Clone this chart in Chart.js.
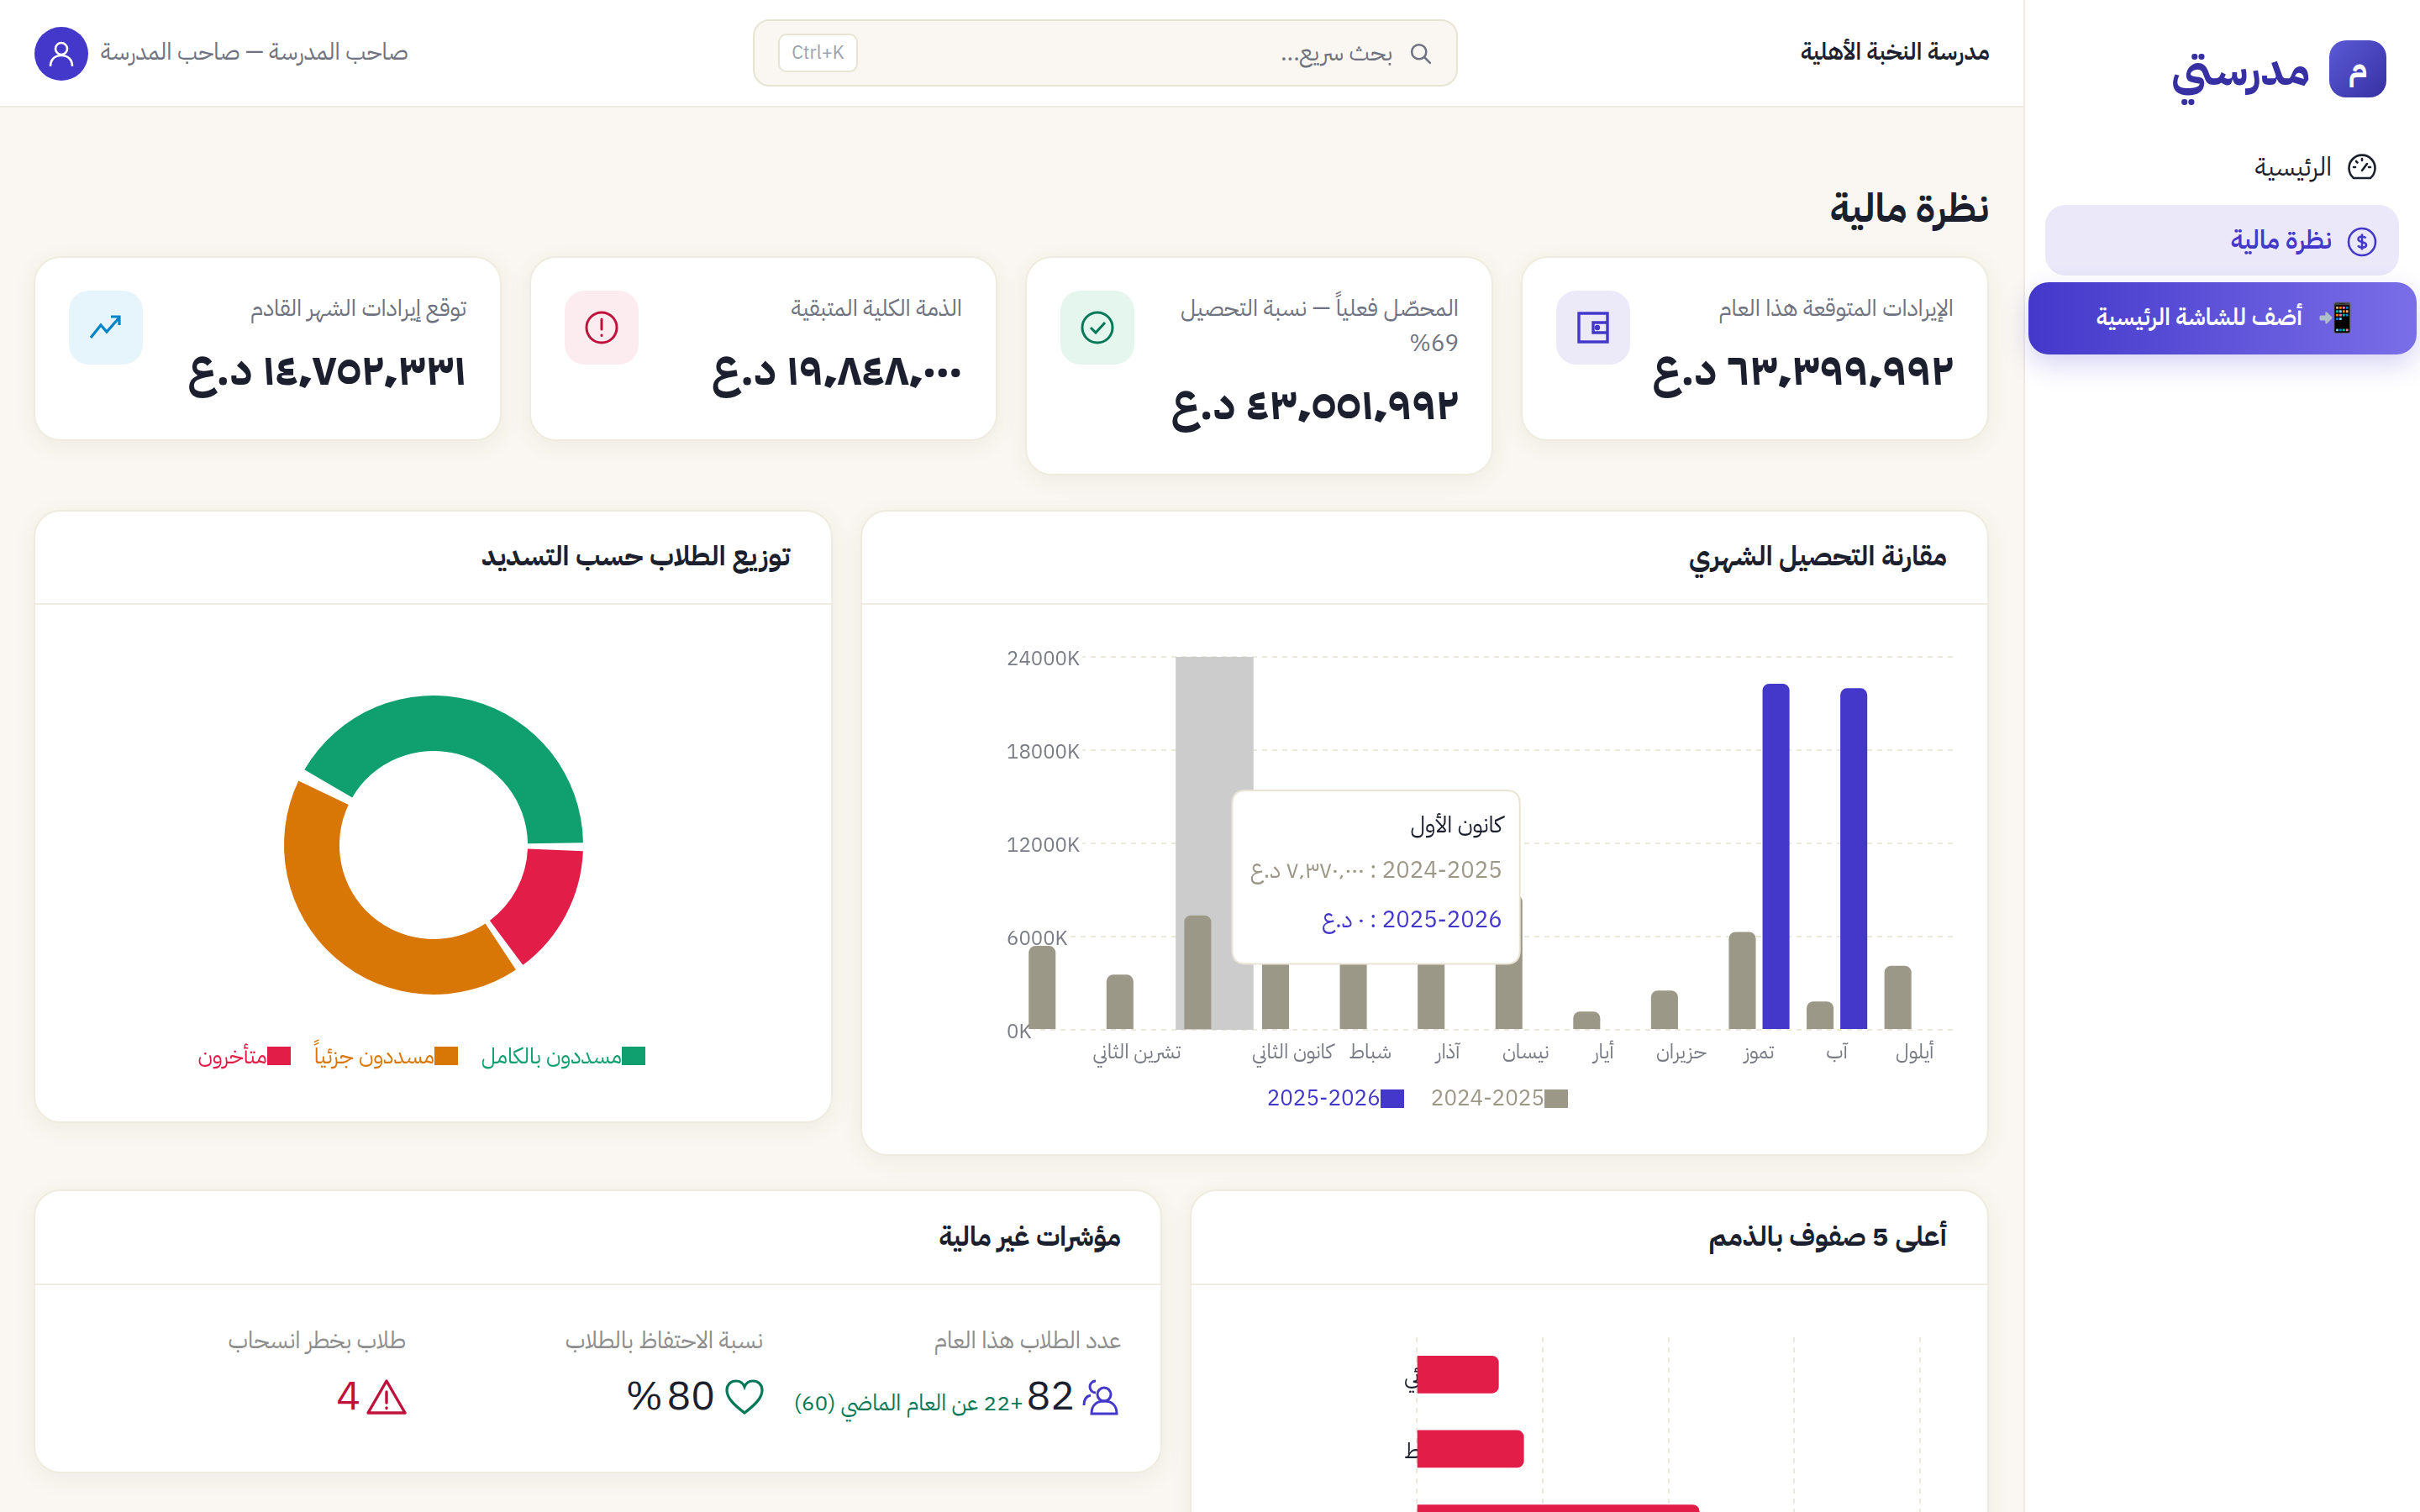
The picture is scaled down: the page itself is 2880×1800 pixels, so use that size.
<!DOCTYPE html>
<html lang="ar" dir="rtl">
<head>
<meta charset="utf-8">
<title>نظرة مالية</title>
<script src="https://cdn.jsdelivr.net/npm/chart.js@4"></script>
<style>
*{box-sizing:border-box;margin:0;padding:0}
html,body{width:2880px;height:1800px;overflow:hidden;background:#faf7f2;font-family:'IBM Plex Sans Arabic','Noto Sans Arabic','Noto Sans',sans-serif;color:#1c1f2e}
.abs{position:absolute}
.t{position:absolute;white-space:nowrap;transform:translateY(-50%);line-height:1.2}
.card{position:absolute;background:#fff;border:2px solid #efecdf;border-radius:32px;box-shadow:0 6px 28px rgba(90,80,40,.07)}
.hr{position:absolute;height:2px;background:#eeece2}
.ic{position:absolute;border-radius:24px;width:88px;height:88px;top:346px;display:flex;align-items:center;justify-content:center}
.lbl{font-size:27.600px;color:#6f7280}
.val{font-size:52.500px;font-weight:700;color:#1c1f2e}
.title{font-size:32.500px;font-weight:700;color:#1c1f2e}
.legend{position:absolute;display:flex;gap:28px;align-items:center;white-space:nowrap;font-size:26.300px}
.legend span.i{display:flex;align-items:center}
.legend b{display:block;width:28px;height:22px}
.legend em{font-style:normal}
svg{display:block}
canvas{position:absolute}
</style>
</head>
<body>
<!-- sidebar -->
<div class="abs" style="left:2408px;top:0;width:472px;height:1800px;background:#fff;border-left:2px solid #eeece2"></div>
<div class="abs" style="left:2772px;top:48px;width:68px;height:68px;border-radius:20px;background:linear-gradient(135deg,#5b5bd6,#3730a3)"></div>
<div class="t" style="left:2772px;width:68px;text-align:center;top:82px;font-size:36px;font-weight:700;color:#fff">م</div>
<div class="t" style="right:131px;top:84px;font-size:52px;font-weight:700;color:#3730a3">مدرستي</div>
<div class="t" style="right:105px;top:199px;font-size:30.500px;color:#1c1f2e">الرئيسية</div>
<svg class="abs" style="left:2793px;top:182px" width="36" height="36" viewBox="0 0 36 36" fill="none" stroke="#1c1f2e" stroke-width="2.6" stroke-linecap="round"><path d="M8 30a15.500 15.500 0 1 1 20 0z"/><path d="M18 21l6-8M18 7v2M8 17h2M28 17h-2M11 10l1.500 1.500"/></svg>
<div class="abs" style="left:2434px;top:244px;width:421px;height:84px;border-radius:24px;background:#eae8f9"></div>
<div class="t" style="right:105px;top:286px;font-size:30.500px;font-weight:600;color:#4338ca">نظرة مالية</div>
<svg class="abs" style="left:2793px;top:270px" width="36" height="36" viewBox="0 0 36 36" fill="none" stroke="#4338ca" stroke-width="2.6"><circle cx="18" cy="18" r="16"/><path d="M22.500 13.500c-1-1.500-2.500-2-4.500-2-2.500 0-4.500 1.300-4.500 3.300 0 4.500 9.500 2.200 9.500 6.700 0 2-2 3.200-5 3.200-2.300 0-3.800-.8-4.800-2.300M18 8.500v19"/></svg>
<div class="abs" style="left:2414px;top:336px;width:462px;height:86px;border-radius:24px;background:linear-gradient(90deg,#4338ca,#7a6ee8);box-shadow:0 12px 32px rgba(67,56,202,.22)"></div>
<div class="t" style="right:140px;top:379px;font-size:28px;font-weight:600;color:#fff">أضف للشاشة الرئيسية</div>
<div class="t" style="left:2758px;top:379px;font-size:34px;direction:ltr">📲</div>

<!-- header -->
<div class="abs" style="left:0;top:0;width:2408px;height:128px;background:#fff;border-bottom:2px solid #eeece2"></div>
<div class="t" style="right:512px;top:63px;font-size:28px;font-weight:600">مدرسة النخبة الأهلية</div>
<div class="abs" style="left:896px;top:23px;width:839px;height:80px;border-radius:20px;background:#faf7f2;border:2px solid #e8e4d4"></div>
<svg class="abs" style="left:1675px;top:48px" width="32" height="32" viewBox="0 0 28 28" fill="none" stroke="#6f7280" stroke-width="2.200" stroke-linecap="round"><circle cx="12" cy="12" r="7.500"/><path d="M17.500 17.500l6 6"/></svg>
<div class="t" style="right:1223px;top:64px;font-size:28px;color:#6f7280">بحث سريع...</div>
<div class="abs" style="left:926px;top:40px;width:95px;height:46px;border-radius:10px;background:#fff;border:2px solid #e8e4d4"></div>
<div class="t" style="left:926px;width:95px;text-align:center;top:63px;font-size:22px;color:#9ca3af;direction:ltr">Ctrl+K</div>
<div class="abs" style="left:41px;top:32px;width:64px;height:64px;border-radius:50%;background:#4338ca"></div>
<svg class="abs" style="left:55px;top:46px" width="36" height="36" viewBox="0 0 36 36" fill="none" stroke="#fff" stroke-width="2.600"><circle cx="18" cy="12" r="7"/><path d="M5 33c0-8 5-13 13-13s13 5 13 13"/></svg>
<div class="t" style="left:120px;top:63px;font-size:27.800px;color:#6f7280">صاحب المدرسة — صاحب المدرسة</div>

<div class="t" style="right:513px;top:249px;font-size:47.200px;font-weight:700">نظرة مالية</div>

<!-- KPI cards -->
<div class="card" style="left:1810px;top:305px;width:557px;height:220px"></div>
<div class="ic" style="left:1852px;background:#eceaf9"><svg width="40" height="40" viewBox="0 0 40 40" fill="none" stroke="#4338ca" stroke-width="3.400"><path d="M3 3h34v34H3zM37 14H20v12h17"/><circle cx="25" cy="20" r="1.500" fill="#4338ca"/></svg></div>
<div class="t lbl" style="right:555px;top:367px">الإيرادات المتوقعة هذا العام</div>
<div class="t val" style="right:555px;top:440px">٦٣٬٣٩٩٬٩٩٢ د.ع</div>

<div class="card" style="left:1220px;top:305px;width:557px;height:261px"></div>
<div class="ic" style="left:1262px;background:#e5f6ef"><svg width="42" height="42" viewBox="0 0 42 42" fill="none" stroke="#047857" stroke-width="3"><circle cx="21" cy="21" r="18"/><path d="M13 21l6 6 11-12"/></svg></div>
<div class="t lbl" style="right:1144px;top:367px">المحصّل فعلياً — نسبة التحصيل</div>
<div class="t lbl" style="right:1144px;top:409px">%69</div>
<div class="t val" style="right:1144px;top:481px">٤٣٬٥٥١٬٩٩٢ د.ع</div>

<div class="card" style="left:630px;top:305px;width:557px;height:220px"></div>
<div class="ic" style="left:672px;background:#fdecef"><svg width="42" height="42" viewBox="0 0 42 42" fill="none" stroke="#be123c" stroke-width="3" stroke-linecap="round"><circle cx="21" cy="21" r="18"/><path d="M21 11v12M21 30v.5"/></svg></div>
<div class="t lbl" style="right:1735px;top:367px">الذمة الكلية المتبقية</div>
<div class="t val" style="right:1735px;top:440px">١٩٬٨٤٨٬٠٠٠ د.ع</div>

<div class="card" style="left:40px;top:305px;width:557px;height:220px"></div>
<div class="ic" style="left:82px;background:#e6f4fb"><svg width="42" height="42" viewBox="0 0 42 42" fill="none" stroke="#0284c7" stroke-width="3.200"><path d="M3 33l12-15 7 8L37 9M27 8h10v10"/></svg></div>
<div class="t lbl" style="right:2325px;top:367px">توقع إيرادات الشهر القادم</div>
<div class="t val" style="right:2325px;top:440px">١٤٬٧٥٢٬٣٣١ د.ع</div>

<!-- monthly card -->
<div class="card" style="left:1024px;top:607px;width:1343px;height:769px"></div>
<div class="hr" style="left:1026px;top:718px;width:1339px"></div>
<div class="t title" style="right:563px;top:662px">مقارنة التحصيل الشهري</div>
<canvas id="monthly" style="left:1100px;top:760px"></canvas>
<div class="legend" id="monthlyLegend" style="right:1014px;top:1288px;gap:32px;font-size:26px"></div>

<!-- doughnut card -->
<div class="card" style="left:40px;top:607px;width:951px;height:730px"></div>
<div class="hr" style="left:42px;top:718px;width:947px"></div>
<div class="t title" style="right:1940px;top:662px">توزيع الطلاب حسب التسديد</div>
<canvas id="donut" style="left:266px;top:756px"></canvas>
<div class="legend" id="donutLegend" style="right:2112px;top:1237px"></div>

<!-- bottom right card -->
<div class="card" style="left:1416px;top:1416px;width:951px;height:720px"></div>
<div class="hr" style="left:1418px;top:1528px;width:947px"></div>
<div class="t title" style="right:563px;top:1472px">أعلى 5 صفوف بالذمم</div>
<canvas id="topDebt" style="left:1560px;top:1570px"></canvas>

<!-- indicators -->
<div class="card" style="left:40px;top:1416px;width:1343px;height:338px"></div>
<div class="hr" style="left:42px;top:1528px;width:1339px"></div>
<div class="t title" style="right:1546px;top:1472px;font-size:32px">مؤشرات غير مالية</div>
<div class="t" style="right:1546px;top:1597px;font-size:28px;color:#8d8d8d">عدد الطلاب هذا العام</div>
<div class="t" style="right:1972px;top:1597px;font-size:28px;color:#8d8d8d">نسبة الاحتفاظ بالطلاب</div>
<div class="t" style="right:2397px;top:1597px;font-size:28px;color:#8d8d8d">طلاب بخطر انسحاب</div>
<svg class="abs" style="left:1288px;top:1641px" width="44" height="44" viewBox="0 0 44 44" fill="none" stroke="#4338ca" stroke-width="3"><circle cx="26" cy="19" r="8"/><path d="M11 42c0-10 6-15 15-15s15 5 15 15zM16 3a7 7 0 0 0 0 14M2 32c0-7 3-11 8-12"/></svg>
<div class="t" style="right:1601px;top:1663px;font-size:48px">82</div>
<div class="t" style="right:1662px;top:1671px;font-size:26.500px;color:#047857">+22 عن العام الماضي (60)</div>
<svg class="abs" style="left:863px;top:1641px" width="46" height="44" viewBox="0 0 46 44" fill="none" stroke="#047857" stroke-width="3.200"><path d="M23 41C10 31 2 23 2 14 2 7 7 3 13 3c4 0 8 2 10 7 2-5 6-7 10-7 6 0 11 4 11 11 0 9-8 17-21 27z"/></svg>
<div class="t" style="right:2029px;top:1663px;font-size:48px;word-spacing:-7px">80 %</div>
<svg class="abs" style="left:436px;top:1641px" width="48" height="44" viewBox="0 0 48 44" fill="none" stroke="#be123c" stroke-width="3.400" stroke-linejoin="round" stroke-linecap="round"><path d="M24 3L46 41H2zM24 16v13M24 35v.5"/></svg>
<div class="t" style="right:2451px;top:1663px;font-size:48px;color:#be123c">4</div>

<script>
const monthLabels = ['أيلول','آب','تموز','حزيران','أيار','نيسان','آذار','شباط','كانون الثاني','كانون الأول','تشرين الثاني','تشرين الأول'];
const hiddenMonthTicks = ['كانون الأول','تشرين الأول'];
const series2425Name = '2024-2025';
const series2526Name = '2025-2026';
const series2425 = [4120000,1830000,6300000,2530000,1180000,8700000,6000000,5400000,5800000,7370000,3550000,5400000];
const series2526 = [0,21980000,22270000,0,0,0,0,0,0,0,0,0];
const monthlyTicks = [0,6000000,12000000,18000000,24000000];
const activeMonth = 'كانون الأول';

const donutLabels = ['متأخرون','مسددون جزئياً','مسددون بالكامل'];
const donutValues = [12,35,35];
const donutColors = ['#e11d48','#d97706','#10a070'];

const debtClasses = ['6 ابتدائي','3 متوسط','3 ثانوي','2 متوسط','6 إعدادي'];
const debtValues = [1300000,1700000,4490000,5600000,6760000];

const gray = '#9c9888', blue = '#4338ca', gridC = '#ebe8dc', tickC = '#7a7c85';
const iqd = n => n.toLocaleString('ar-IQ') + ' د.ع';

Chart.defaults.font.family = getComputedStyle(document.body).fontFamily;
Chart.defaults.animation = false;
Chart.defaults.responsive = false;

Chart.Tooltip.positioners.besideBand = function(items){
  if(!items.length) return false;
  const c = this.chart;
  return { x: c.scales.x.getPixelForValue(items[0].index) + 37, y: c.scales.y.top + 159 };
};

const bandCursor = {
  id:'bandCursor',
  beforeDatasetsDraw(chart){
    const x = chart.scales.x, i = monthLabels.indexOf(activeMonth);
    const w = Math.abs(x.getPixelForValue(1)-x.getPixelForValue(0));
    const c = chart.ctx; c.save(); c.fillStyle='#cccccc';
    c.fillRect(x.getPixelForValue(i)-w/2, chart.chartArea.top, w, chart.chartArea.height);
    c.restore();
  }
};

const cv1 = document.getElementById('monthly'); cv1.width=1240; cv1.height=530;
const monthly = new Chart(cv1,{
  type:'bar',
  data:{labels:monthLabels,datasets:[
    {label:series2425Name,data:series2425,backgroundColor:gray,borderRadius:{topLeft:8,topRight:8},borderSkipped:'bottom',barPercentage:.8,categoryPercentage:.866},
    {label:series2526Name,data:series2526,backgroundColor:blue,borderRadius:{topLeft:8,topRight:8},borderSkipped:'bottom',barPercentage:.8,categoryPercentage:.866}
  ]},
  plugins:[bandCursor],
  options:{
    responsive:false,animation:false,
    layout:{padding:{left:96,right:15,top:22,bottom:10}},
    events:[],
    scales:{
      x:{reverse:true,grid:{display:false},border:{display:false},
        ticks:{color:tickC,font:{size:24},autoSkip:false,maxRotation:0,minRotation:0,padding:6,
          callback(v){const l=this.getLabelForValue(v);return hiddenMonthTicks.includes(l)?'':l;}},
        afterFit(s){s.height=54;}},
      y:{min:0,max:24000000,grid:{color:gridC,lineWidth:2,drawTicks:false},border:{display:false,dash:[6,6]},
        afterBuildTicks(s){s.ticks=monthlyTicks.map(value=>({value}));},
        ticks:{color:tickC,font:{size:24},mirror:true,padding:-16,labelOffset:5,
          showLabelBackdrop:true,backdropColor:'#ffffff',backdropPadding:{left:0,right:3,top:0,bottom:0},
          callback:v=>(v/1000)+'K'},
        afterFit(s){s.width=18;}}
    },
    plugins:{
      legend:{display:false},
      tooltip:{
        enabled:true,position:'besideBand',xAlign:'left',yAlign:'top',caretSize:0,caretPadding:0,
        backgroundColor:'#fff',borderColor:'#e8e4d4',borderWidth:2,cornerRadius:16,displayColors:false,
        rtl:true,textDirection:'rtl',bodyAlign:'right',padding:{top:28,bottom:33,left:21,right:21},
        titleColor:'#1c1f2e',titleFont:{size:27,weight:'400'},titleMarginBottom:21,
        bodyFont:{size:27.5},bodySpacing:26,
        callbacks:{
          label:i=>`${i.dataset.label} : ${iqd(i.raw)}`,
          labelTextColor:i=>i.datasetIndex===0?gray:blue
        }
      }
    }
  }
});
const mi = monthLabels.indexOf(activeMonth);
monthly.tooltip.setActiveElements([{datasetIndex:0,index:mi},{datasetIndex:1,index:mi}],{x:0,y:0});
monthly.update();

function htmlLegend(el,items){
  el.innerHTML='';
  items.forEach(it=>{
    const s=document.createElement('span'); s.className='i'; s.style.color=it.color;
    const b=document.createElement('b'); b.style.background=it.color;
    const e=document.createElement('em'); e.textContent=it.text;
    s.append(b,e); el.append(s);
  });
}
htmlLegend(document.getElementById('monthlyLegend'),monthly.data.datasets.map(d=>({text:d.label,color:d.backgroundColor})));

const cv2 = document.getElementById('donut'); cv2.width=500; cv2.height=500;
const donut = new Chart(cv2,{
  type:'doughnut',
  data:{labels:donutLabels,datasets:[{data:donutValues,backgroundColor:donutColors,borderWidth:0,spacing:9}]},
  options:{responsive:false,animation:false,events:[],rotation:91.5,radius:173.5,cutout:'62%',
    plugins:{legend:{display:false},tooltip:{enabled:false}}}
});
htmlLegend(document.getElementById('donutLegend'),donutLabels.map((t,i)=>({text:t,color:donutColors[i]})).reverse());

const cv3 = document.getElementById('topDebt'); cv3.width=780; cv3.height=520;
new Chart(cv3,{
  type:'bar',
  data:{labels:debtClasses,datasets:[{label:'الذمم',data:debtValues,backgroundColor:'#e11d48',borderRadius:8,barThickness:44}]},
  options:{
    indexAxis:'y',responsive:false,animation:false,events:[],
    layout:{padding:{left:111,right:55,top:22,bottom:25}},
    scales:{
      x:{min:0,max:8000000,grid:{color:gridC,lineWidth:2,drawTicks:false},border:{display:false,dash:[6,6]},
        ticks:{stepSize:2000000,color:tickC,font:{size:24},callback:v=>(v/1000)+'K'},afterFit(s){s.height=30;}},
      y:{grid:{display:false},border:{display:false},
        ticks:{color:'#1c1f2e',font:{size:26},mirror:true,padding:-15,labelOffset:5},afterFit(s){s.width=15;}}
    },
    plugins:{legend:{display:false},tooltip:{enabled:false}}
  }
});
</script>
</body>
</html>
